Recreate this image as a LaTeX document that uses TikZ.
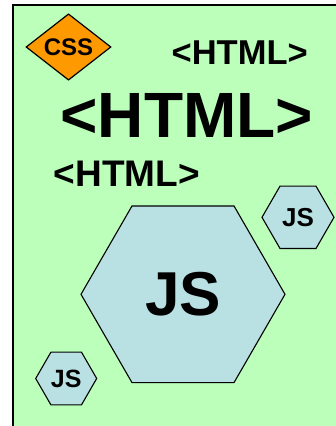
\documentclass[tikz,border=0pt]{standalone}
\usepackage{fontspec}
\setmainfont{Liberation Sans}
\usetikzlibrary{shapes.geometric}
\definecolor{bggreen}{HTML}{BBFFBB}
\definecolor{cssorange}{HTML}{FF9900}
\definecolor{jsblue}{HTML}{B9E0E3}
\tikzset{
  hexbox/.style={regular polygon, regular polygon sides=6, draw=black, line width=1.1pt, fill=jsblue, inner sep=0pt, font=\bfseries},
  tagtext/.style={inner sep=0pt, font=\bfseries},
}
\begin{document}
\begin{tikzpicture}[x=1pt,y=-1pt]
\useasboundingbox (0,0) rectangle (335,426);
\draw[fill=bggreen, line width=1.5pt] (13,5) rectangle (345,440);
\node[diamond, draw=black, line width=1.2pt, fill=cssorange, minimum width=85pt, minimum height=66pt, inner sep=0pt, font=\bfseries\fontsize{24}{24}\selectfont] (css) at (68.5,47) {CSS};
\node[tagtext, font=\bfseries\fontsize{34.5}{34.5}\selectfont] (html1) at (239.7,52.5) {<HTML>};
\node[tagtext, font=\bfseries\fontsize{64}{64}\selectfont] (html2) at (186.7,115) {<HTML>};
\node[tagtext, font=\bfseries\fontsize{37}{37}\selectfont] (html3) at (126.7,173.5) {<HTML>};
\node[hexbox, minimum size=204pt, font=\bfseries\fontsize{62}{62}\selectfont] (jsbig) at (183,294.3) {JS};
\node[hexbox, minimum size=72pt, font=\bfseries\fontsize{26}{26}\selectfont] (jstr) at (298,217.3) {JS};
\node[hexbox, minimum size=61pt, font=\bfseries\fontsize{25}{25}\selectfont] (jsbl) at (66.2,378.5) {JS};
\end{tikzpicture}
\end{document}
